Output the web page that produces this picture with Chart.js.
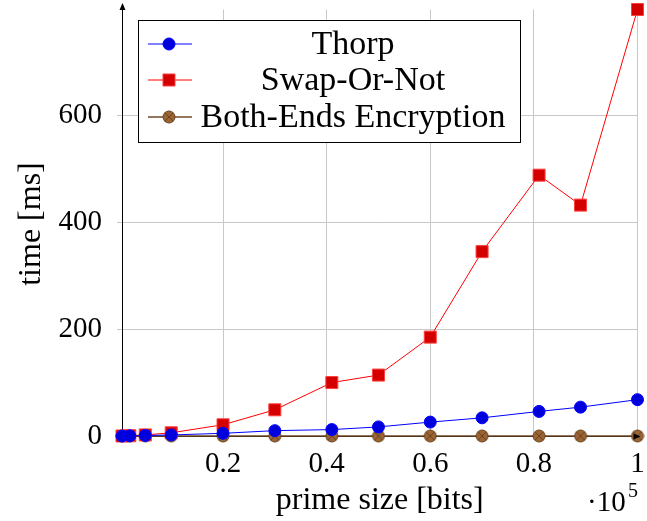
<!DOCTYPE html>
<html>
<head>
<meta charset="utf-8">
<script src="https://cdn.jsdelivr.net/npm/chart.js@4.4.1/dist/chart.umd.min.js"></script>
<style>
  html, body { margin: 0; padding: 0; background: #fff; }
</style>
</head>
<body>
<canvas id="chart" width="647" height="521"></canvas>
<script>
// data
const primeSizes = [500, 2000, 5000, 10000, 20000, 30000, 41000, 50000, 60000, 70000, 81000, 89000, 100000];
const thorp      = [0, 0.3, 1, 2, 5, 10, 12, 17, 26, 34, 46, 54, 68];
const swapOrNot  = [0, 0.5, 2, 6, 21, 49, 100, 114, 185, 345, 488, 432, 798];
const bothEnds   = [0, 0, 0, 0, 0, 0, 0, 0, 0, 0, 0, 0, 0];
const seriesNames = ["Thorp", "Swap-Or-Not", "Both-Ends Encryption"];
const xTicks = [20000, 40000, 60000, 80000, 100000];
const yTicks = [0, 200, 400, 600];
const xTitle = "prime size [bits]";
const yTitle = "time [ms]";

const SERIF = "'Liberation Serif', 'Times New Roman', serif";

// otimes* marker: filled brown circle with a cross
function otimesMarker(r) {
  const c = document.createElement("canvas");
  const s = Math.ceil(r * 2 + 2);
  c.width = s; c.height = s;
  const g = c.getContext("2d");
  const m = s / 2;
  g.fillStyle = "#9a6532";
  g.strokeStyle = "#6b4321";
  g.lineWidth = 1;
  g.beginPath(); g.arc(m, m, r, 0, Math.PI * 2); g.fill(); g.stroke();
  const d = r * Math.SQRT1_2;
  g.beginPath();
  g.moveTo(m - d, m - d); g.lineTo(m + d, m + d);
  g.moveTo(m - d, m + d); g.lineTo(m + d, m - d);
  g.stroke();
  return c;
}
const brownMark = otimesMarker(6);

const pts = ys => primeSizes.map((x, i) => ({ x, y: ys[i] }));

const datasets = [
  {
    label: seriesNames[0], data: pts(thorp),
    borderColor: "#0000ff", borderWidth: 1,
    pointStyle: "circle", pointRadius: 6,
    pointBackgroundColor: "#0000dd", pointBorderColor: "#0000ff", pointBorderWidth: 1,
  },
  {
    label: seriesNames[1], data: pts(swapOrNot),
    borderColor: "#ff0000", borderWidth: 1,
    pointStyle: "rect", pointRadius: 8.5,
    pointBackgroundColor: "#d40000", pointBorderColor: "#ff4040", pointBorderWidth: 1,
  },
  {
    label: seriesNames[2], data: pts(bothEnds),
    borderColor: "#6e4a26", borderWidth: 1.5,
    pointStyle: brownMark, pointRadius: 6,
  },
].map(d => ({ ...d, clip: false, tension: 0, fill: false }));

// axis titles, arrows, the 10^5 multiplier and the boxed legend
const extras = {
  id: "extras",
  afterDraw(chart) {
    const ctx = chart.ctx;
    const a = chart.chartArea;
    ctx.save();

    // arrows on the axes
    ctx.fillStyle = "#000";
    ctx.strokeStyle = "#000";
    ctx.lineWidth = 1;
    ctx.beginPath();
    ctx.moveTo(a.left + 0.5, a.top); ctx.lineTo(a.left + 0.5, 4); ctx.stroke();
    ctx.beginPath();
    ctx.moveTo(a.left + 0.5, 3); ctx.lineTo(a.left - 2.5, 10); ctx.lineTo(a.left + 3.5, 10);
    ctx.closePath(); ctx.fill();
    ctx.beginPath();
    ctx.moveTo(a.right + 3, a.bottom + 0.5); ctx.lineTo(a.right - 4, a.bottom - 2.5); ctx.lineTo(a.right - 4, a.bottom + 3.5);
    ctx.closePath(); ctx.fill();

    // axis titles
    ctx.fillStyle = "#000";
    ctx.textAlign = "center";
    ctx.textBaseline = "middle";
    ctx.font = "32px " + SERIF;
    ctx.fillText(xTitle, (a.left + a.right) / 2, 501);
    ctx.save();
    ctx.translate(32, 224);
    ctx.rotate(-Math.PI / 2);
    ctx.fillText(yTitle, 0, 0);
    ctx.restore();

    // ·10^5
    ctx.textAlign = "left";
    ctx.font = "29px " + SERIF;
    ctx.fillText("\u00b710", 587, 503);
    ctx.font = "20px " + SERIF;
    ctx.fillText("5", 628, 492);

    // legend box
    const box = { x: 138, y: 20, w: 382, h: 122 };
    ctx.fillStyle = "#fff";
    ctx.fillRect(box.x, box.y, box.w, box.h);
    ctx.strokeStyle = "#000";
    ctx.strokeRect(box.x + 0.5, box.y + 0.5, box.w, box.h);
    const rows = [44, 80, 117];
    chart.data.datasets.forEach((ds, i) => {
      const y = rows[i];
      ctx.strokeStyle = ds.borderColor;
      ctx.lineWidth = ds.borderWidth;
      ctx.beginPath(); ctx.moveTo(148, y); ctx.lineTo(192, y); ctx.stroke();
      ctx.fillStyle = ds.pointBackgroundColor || "#000";
      ctx.strokeStyle = ds.pointBorderColor || ds.borderColor;
      ctx.lineWidth = ds.pointBorderWidth || 1;
      Chart.helpers.drawPoint(ctx, {
        pointStyle: ds.pointStyle, radius: ds.pointRadius, rotation: 0, borderWidth: ds.pointBorderWidth || 1,
      }, 169, y);
      ctx.fillStyle = "#000";
      ctx.textAlign = "center";
      ctx.font = "34px " + SERIF;
      ctx.fillText(ds.label, 353, y + 1);
    });
    ctx.restore();
  },
};

new Chart(document.getElementById("chart"), {
  type: "line",
  data: { datasets },
  plugins: [extras],
  options: {
    responsive: false,
    animation: false,
    devicePixelRatio: 1,
    layout: { padding: { top: 7, right: 7, left: 0, bottom: 0 } },
    plugins: { legend: { display: false }, tooltip: { enabled: false } },
    scales: {
      x: {
        type: "linear",
        min: primeSizes[0],
        max: primeSizes[primeSizes.length - 1],
        afterBuildTicks: s => { s.ticks = xTicks.map(v => ({ value: v })); },
        afterFit: s => { s.height = 85; s.paddingLeft = 0; s.paddingRight = 0; },
        ticks: {
          color: "#000",
          font: { family: SERIF, size: 29 },
          padding: 7,
          maxRotation: 0,
          autoSkip: false,
          callback: v => String(v / 100000),
        },
        grid: { color: "#c8c8c8", lineWidth: 1, tickLength: 4 },
        border: { color: "#000", width: 1 },
      },
      y: {
        type: "linear",
        min: 0,
        max: 798,
        afterBuildTicks: s => { s.ticks = yTicks.map(v => ({ value: v })); },
        afterFit: s => { s.width = 122; s.paddingTop = 0; s.paddingBottom = 0; },
        ticks: {
          color: "#000",
          font: { family: SERIF, size: 29 },
          padding: 15,
          autoSkip: false,
        },
        grid: { color: "#c8c8c8", lineWidth: 1, tickLength: 5 },
        border: { color: "#000", width: 1 },
      },
    },
  },
});
</script>
</body>
</html>
